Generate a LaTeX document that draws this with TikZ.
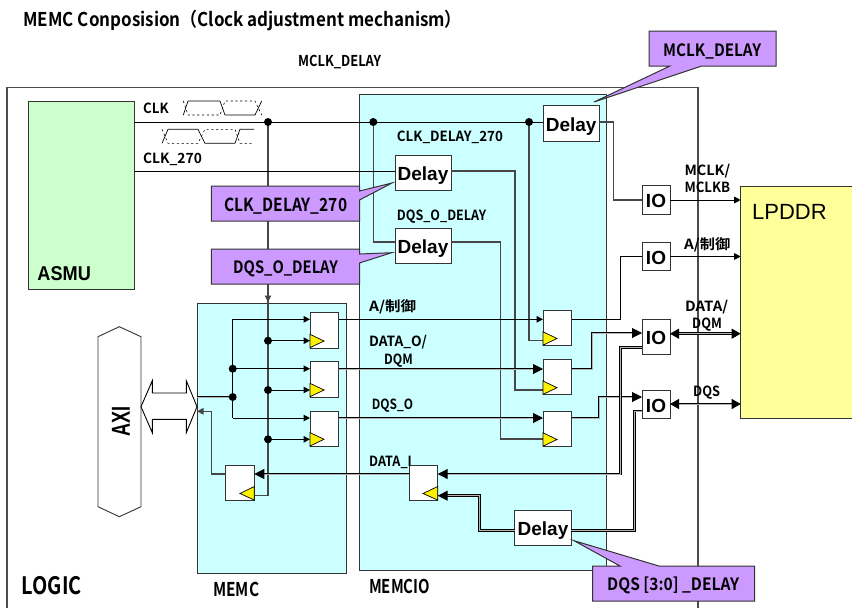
\documentclass[tikz,border=0pt]{standalone}
\usepackage{fontspec}
\usepackage{graphicx}
\usetikzlibrary{arrows.meta}
\setmainfont{Liberation Sans}
\newfontfamily\gothic{Noto Sans CJK JP}[BoldFont={Noto Sans CJK JP Bold}]
\definecolor{cgreen}{HTML}{CCFFCC}
\definecolor{ccyan}{HTML}{CCFFFF}
\definecolor{cyel}{HTML}{FFFF99}
\definecolor{cpur}{HTML}{CC99FF}
\definecolor{cdark}{HTML}{333333}
\tikzset{
  box/.style={rectangle,draw=cdark,line width=1pt,inner sep=0pt,outer sep=0pt},
  wire/.style={draw=black,line width=1pt},
  gwire/.style={draw=black!72,line width=1.1pt},
  dbl/.style={draw=black,line width=1pt,double=black!30,double distance=.9pt},
  arr/.style={-{Triangle[length=6.5pt,width=6.5pt]}},
  barr/.style={-{Triangle[length=10pt,width=10pt]}},
  bbarr/.style={{Triangle[length=9pt,width=10pt]}-{Triangle[length=9pt,width=10pt]}},
  dot/.style={circle,fill=black,inner sep=0pt,minimum size=8pt},
  clk/.style={draw=black,fill=yellow,line width=.7pt},
  callout/.style={draw=cdark,fill=cpur,line width=1pt},
  dtext/.style={font=\fontsize{19}{19}\selectfont\bfseries,text height=16pt,text depth=0pt},
  wave/.style={draw=black,line width=.7pt},
  wdash/.style={draw=black,line width=.6pt,dash pattern=on 2.2pt off 2.6pt}
}
% \bx{name}{x1}{y1}{x2}{y2}{opts}{text}
\newcommand\bx[7]{\node[box,minimum width={#4-#2},minimum height={#5-#3},#6] (#1) at ({(#2+#4)/2},{(#3+#5)/2}) {#7};}
% \lbl{name}{x1}{x2}{ycentre}{size}{text}
\newcommand\lbl[6]{\node[anchor=base west,inner sep=0pt] (#1) at (#2,{#4+0.36*#5}) {\resizebox{\dimexpr #3pt-#2pt\relax}{\height}{\gothic\bfseries\fontsize{#5}{#5}\selectfont #6}};}
\begin{document}
\begin{tikzpicture}[x=1pt,y=-1pt]
\useasboundingbox (0,0) rectangle (852,608);
\fill[white] (0,0) rectangle (852,608);
% regions
\draw[draw=black!70,line width=1.1pt] (7,612) -- (7,87.3) -- (698,87.3) -- (698,612);
\bx{asmu}{28}{101}{134}{289}{fill=cgreen}{}
\bx{memc}{197}{303}{346}{573}{fill=ccyan}{}
\bx{memcio}{359.5}{94}{606.7}{570.7}{fill=ccyan}{}
\node[box,minimum width=125pt,minimum height=232pt,fill=cyel,anchor=north west] (lpddr) at (740.7,186) {};
% delay, IO and flip-flop boxes
\bx{dmclk}{543}{105.7}{599.3}{141}{fill=white,dtext}{Delay}
\bx{dclk}{395}{155}{451}{190}{fill=white,dtext}{Delay}
\bx{ddqs}{395}{228}{451}{263}{fill=white,dtext}{Delay}
\bx{dbot}{514.7}{510}{571.3}{545}{fill=white,dtext}{Delay}
\bx{ioa}{642}{185.7}{670}{214}{fill=white,dtext}{IO}
\bx{iob}{642}{242}{670}{270}{fill=white,dtext}{IO}
\bx{ioc}{642}{319}{670}{354}{fill=white,dtext}{IO}
\bx{iod}{642}{390}{670}{418}{fill=white,dtext}{IO}
\bx{ma}{310}{312.7}{338.7}{348}{fill=white}{}
\bx{mb}{310}{361.7}{338.7}{397}{fill=white}{}
\bx{mc}{310}{411.3}{338.7}{446}{fill=white}{}
\bx{md}{225.7}{465}{254.3}{500}{fill=white}{}
\bx{ra}{543}{310}{571.7}{345}{fill=white}{}
\bx{rb}{543}{359}{571.7}{394.7}{fill=white}{}
\bx{rc}{543}{411}{571.7}{446}{fill=white}{}
\bx{re}{409}{465}{437.7}{500}{fill=white}{}
% junction coordinates
\coordinate (jclk) at (268,122);
\coordinate (jdqs) at (373.3,122);
\coordinate (jmclk) at (529,122);
\coordinate (jbus) at (232.7,397);
\coordinate (jb) at (232.7,368.7);
\coordinate (ca) at (268,340.7);
\coordinate (cb) at (268,390);
\coordinate (cc) at (268,439.3);
% clock wires
\draw[gwire] (jclk) -- (268,495.7) -- (md.east |- 0,495.7);
\draw[gwire,arr] (jclk) -- (268,302);
\draw[gwire] (jdqs) -- (373.3,242) -- (ddqs.west |- 0,242);
\draw[gwire] (jmclk) -- (529,340.7) -- (ra.west |- 0,340.7);
\draw[wire] (asmu.east |- jclk) -- (dmclk.west |- jclk);
\draw[wire] (asmu.east |- 0,171) -- (dclk.west |- 0,171);
\draw[gwire] (dclk.east |- 0,171) -- (515,171) -- (515,390) -- (rb.west |- 0,390);
\draw[gwire] (ddqs.east |- 0,242) -- (500.7,242) -- (500.7,439) -- (rc.west |- 0,439);
\draw[gwire] (dmclk.east |- jclk) -- (613.7,122) -- (613.7,200) -- (ioa.west |- 0,200);
% IO to LPDDR
\draw[wire,arr] (ioa.east |- 0,200) -- (lpddr.west |- 0,200);
\draw[wire,arr] (iob.east |- 0,256.5) -- (lpddr.west |- 0,256.5);
\draw[dbl,bbarr] (ioc.east |- 0,333.7) -- (lpddr.west |- 0,333.7);
\draw[dbl,bbarr] (iod.east |- 0,404) -- (lpddr.west |- 0,404);
% MEMC inputs
\draw[dbl] (memc.west |- jbus) -- (jbus);
\draw[wire] (232.7,319.3) -- (232.7,418);
\draw[wire,arr] (232.7,319.3) -- (ma.west |- 0,319.3);
\draw[wire,arr] (jb) -- (mb.west |- jb);
\draw[wire,arr] (232.7,418) -- (mc.west |- 0,418);
\draw[wire,arr] (ca) -- (ma.west |- ca);
\draw[wire,arr] (cb) -- (mb.west |- cb);
\draw[wire,arr] (cc) -- (mc.west |- cc);
\draw[gwire,arr] (md.west |- 0,474) -- (211.3,474) -- (211.3,411.3) -- (memc.west |- 0,411.3);
% data paths between MEMC and MEMCIO
\draw[wire,arr] (ma.east |- 0,319.3) -- (ra.west |- 0,319.3);
\draw[dbl,barr] (mb.east |- 0,369) -- (rb.west |- 0,369);
\draw[dbl,barr] (mc.east |- 0,418) -- (rc.west |- 0,418);
\draw[dbl,barr] (re.west |- 0,474) -- (md.east |- 0,474);
% outputs to IO
\draw[wire] (ra.east |- 0,319.3) -- (620.7,319.3) -- (620.7,256.5) -- (iob.west |- 0,256.5);
\draw[dbl,barr] (rb.east |- 0,369) -- (592,369) -- (592,333) -- (ioc.west |- 0,333);
\draw[dbl,barr] (rc.east |- 0,418) -- (599,418) -- (599,397) -- (iod.west |- 0,397);
\draw[dbl,barr] (ioc.west |- 0,347.7) -- (620.7,347.7) -- (620.7,474) -- (re.east |- 0,474);
\draw[dbl] (iod.west |- 0,411) -- (634.7,411) -- (634.7,530.7) -- (dbot.east |- 0,530.7);
\draw[dbl,barr] (dbot.west |- 0,530.7) -- (479.7,530.7) -- (479.7,495.7) -- (re.east |- 0,495.7);
% dots
\foreach \n/\p in {dclkj/jclk,ddqsj/jdqs,dmclkj/jmclk,dbus/jbus,dbj/jb,dca/ca,dcb/cb,dcc/cc}{\node[dot] (\n) at (\p) {};}
% clock triangles
\foreach \x/\y in {310/341,310/390,310/439.3,543/338.5,543/387.7,543/439.5}{\draw[clk] (\x,\y-6.7) -- (\x+14,\y) -- (\x,\y+6.7) -- cycle;}
\draw[clk] (254.3,486.5) -- (240,493.5) -- (254.3,500) -- cycle;
\draw[clk] (437.7,486.5) -- (423,493.5) -- (437.7,500) -- cycle;
% AXI
\draw[draw=cdark,line width=.9pt,fill=white] (119.3,326.7) -- (141,336.7) -- (141,506.7) -- (119.3,516.7) -- (98,506.7) -- (98,336.7) -- cycle;
\draw[draw=black,line width=.9pt,fill=white] (141,406.7) -- (152.3,380.7) -- (152.3,393) -- (186.3,393) -- (186.3,380.7) -- (197,406.7) -- (186.3,432.7) -- (186.3,419.3) -- (152.3,419.3) -- (152.3,432.7) -- cycle;
% waveforms
\draw[wave] (183.3,115) -- (188,101) -- (220,101) -- (225,115) -- (255,115) -- (261.7,101);
\draw[wdash] (183.3,101) -- (188,115) -- (220,115) -- (225,101) -- (255,101) -- (261.7,115);
\draw[wave] (162,143.3) -- (168,129.3) -- (198,129.3) -- (205,143.3) -- (235,143.3) -- (240,129.3) -- (254,129.3);
\draw[wdash] (162,129.3) -- (168,143.3) -- (198,143.3) -- (205,129.3) -- (235,129.3) -- (240,143.3) -- (254,143.3);
% callouts
\draw[callout] (211.3,186) -- (359.5,186) -- (359.5,191) -- (392,183) -- (359.5,200) -- (359.5,221) -- (211.3,221) -- cycle;
\draw[callout] (211.3,249) -- (359.5,249) -- (359.5,254) -- (391.7,252.7) -- (359.5,263) -- (359.5,284) -- (211.3,284) -- cycle;
\draw[callout] (649,31) -- (776,31) -- (776,66) -- (701.7,66) -- (594,102) -- (670,66) -- (649,66) -- cycle;
\draw[callout] (592.7,566) -- (620,566) -- (574,540.7) -- (659,566) -- (754.7,566) -- (754.7,601) -- (592.7,601) -- cycle;
% labels
\lbl{ttl}{23.3}{461.7}{20}{19}{MEMC Conposision（Clock adjustment mechanism）}
\lbl{tmclk}{298}{381}{60.7}{15}{MCLK\_DELAY}
\lbl{tclk}{143}{168.5}{108}{14}{CLK}
\lbl{tclkb}{143}{201.7}{158}{14}{CLK\_270}
\lbl{tcd}{396.7}{502.7}{136.7}{14}{CLK\_DELAY\_270}
\lbl{tdd}{396.7}{486}{215}{14}{DQS\_O\_DELAY}
\lbl{tmca}{684.3}{730}{170}{14}{MCLK/}
\lbl{tmcb}{684.3}{730}{187.7}{14}{MCLKB}
\lbl{tactl}{684}{730}{244}{14}{A/制御}
\lbl{tdata}{685}{728}{306}{14}{DATA/}
\lbl{tdqm}{692}{721.7}{323}{14}{DQM}
\lbl{tdqs}{693}{720}{391.7}{14}{DQS}
\lbl{tact}{369}{416}{306}{14}{A/制御}
\lbl{tdo}{369}{426.7}{341}{14}{DATA\_O/}
\lbl{tdq}{384}{412.7}{359}{14}{DQM}
\lbl{tdq0}{371.7}{413}{404.3}{14}{DQS\_O}
\lbl{tdi}{369}{411.7}{461}{14}{DATA\_I}
\lbl{c1}{224}{347}{205}{18}{CLK\_DELAY\_270}
\lbl{c2}{233}{337.7}{267.7}{17}{DQS\_O\_DELAY}
\lbl{c3}{663}{761}{50}{17}{MCLK\_DELAY}
\lbl{c4}{607}{739}{584}{17}{DQS [3:0] \_DELAY}
\lbl{tlogic}{21.7}{81.7}{585.7}{24}{LOGIC}
\lbl{tmemc}{213}{259}{590}{19}{MEMC}
\lbl{tmemcio}{369}{430}{586.7}{19}{MEMCIO}
\node[anchor=base west,inner sep=0pt] (tasmu) at (37.3,280) {\resizebox{53.4pt}{\height}{\fontsize{20}{20}\selectfont\bfseries ASMU}};
\node[anchor=base west,inner sep=0pt] (tlp) at (752,219) {\fontsize{22}{22}\selectfont LPDDR};
\node[rotate=90,inner sep=0pt] (taxi) at (121,421.7) {\resizebox{30pt}{\height}{\fontsize{26}{26}\selectfont\bfseries AXI}};
\end{tikzpicture}
\end{document}
